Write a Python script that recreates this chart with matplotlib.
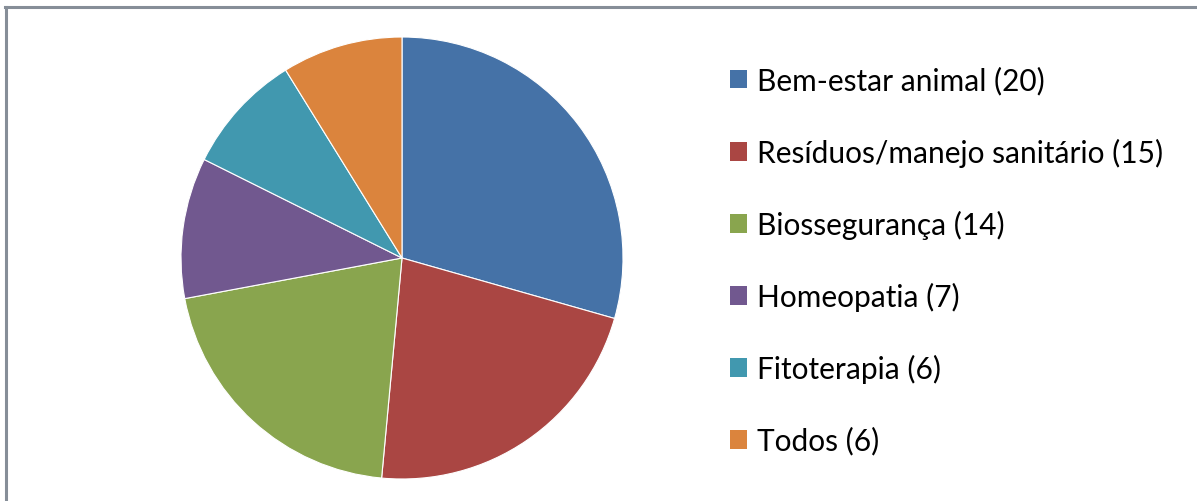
import matplotlib.pyplot as plt
from matplotlib.patches import Patch
from matplotlib.lines import Line2D

categories = ["Bem-estar animal", "Resíduos/manejo sanitário", "Biossegurança",
              "Homeopatia", "Fitoterapia", "Todos"]
counts = [20, 15, 14, 7, 6, 6]
colors = ["#4572A7", "#AA4643", "#89A54E", "#71588F", "#4198AF", "#DB843D"]

labels = [f"{c} ({n})" for c, n in zip(categories, counts)]

W, H = 1197, 502
fig = plt.figure(figsize=(W / 100, H / 100), dpi=100)
fig.patch.set_facecolor("white")

# pie area: centre (402, 259), radius 221 px
cx, cy, r = 402, 259, 221
ax = fig.add_axes([(cx - r) / W, (H - cy - r) / H, 2 * r / W, 2 * r / H])
ax.pie(counts, colors=colors, startangle=90, counterclock=False, radius=1,
       wedgeprops=dict(edgecolor="white", linewidth=0.8))
ax.set_xlim(-1, 1)
ax.set_ylim(-1, 1)
ax.set_aspect("auto")
ax.axis("off")

# legend
fs = 21.5
handles = [Patch(facecolor=c, edgecolor="none") for c in colors]
leg = fig.legend(handles, labels, loc="upper left",
                 bbox_to_anchor=(730 / W, 1 - 67 / H),
                 frameon=False,
                 prop={"family": "Lato", "size": fs},
                 handlelength=0.58, handleheight=0.58, handletextpad=0.33,
                 labelspacing=1.44, borderpad=0, borderaxespad=0)

# chart border (top and left visible)
fig.add_artist(Line2D([5 / W, 1], [1 - 8 / H, 1 - 8 / H], color="#868e98", lw=2.2))
fig.add_artist(Line2D([6 / W, 6 / W], [0, 1 - 8 / H], color="#868e98", lw=2.2))

fig.savefig("out.png", dpi=100)
